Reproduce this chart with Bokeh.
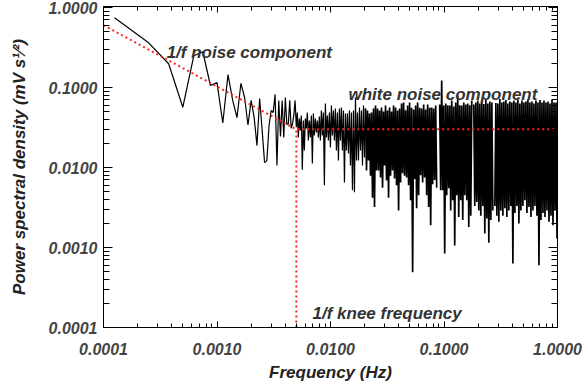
import numpy as np
from bokeh.plotting import figure
from bokeh.models import (LogAxis, FixedTicker, PrintfTickFormatter,
                          CustomJSTickFormatter, Label, Range1d)
from bokeh.embed import file_html
from bokeh.resources import INLINE

# ---------------- data ----------------
# frequency resolution of the spectrum (Hz)
bin_width = 1.25e-4

# individual spectral bins k = 1..40 (f = k * bin_width)
low_psd = [0.743, 0.362, 0.198, 0.0567, 0.25, 0.28, 0.106, 0.115, 0.036, 0.145,
           0.069, 0.042, 0.113, 0.075, 0.034, 0.069, 0.042, 0.0188, 0.073, 0.029,
           0.0115, 0.0122, 0.0335, 0.0516, 0.0487, 0.082, 0.0106, 0.069, 0.0244, 0.069,
           0.0237, 0.075, 0.0345, 0.035, 0.069, 0.031, 0.035, 0.045, 0.069, 0.032]

# dense part of the spectrum (0.0051 - 0.99 Hz): upper / lower excursions
dense_f_start = 0.0051
dense_f_end = 0.99
dense_hi = [0.0487, 0.0410, 0.0447, 0.0387, 0.0410, 0.0487, 0.0387, 0.0447, 0.0473, 0.0410,
            0.0387, 0.0434, 0.0516, 0.0487, 0.0631, 0.0447, 0.0487, 0.0596, 0.0516, 0.0546,
            0.0487, 0.0546, 0.0562, 0.0516, 0.0473, 0.0473, 0.0516, 0.0487, 0.0516, 0.0750,
            0.0487, 0.0562, 0.0516, 0.0596, 0.0546, 0.0516, 0.0473, 0.0487, 0.0546, 0.0596,
            0.0546, 0.0516, 0.0562, 0.0500, 0.0596, 0.0516, 0.0562, 0.0500, 0.0596, 0.0562,
            0.0516, 0.0546, 0.0630, 0.0649, 0.0520, 0.0596, 0.0649, 0.0560, 0.0530, 0.0596,
            0.0649, 0.0560, 0.0546, 0.0613, 0.0530, 0.0613, 0.0560, 0.0562, 0.0546, 0.0596,
            0.0631, 0.0613, 0.1223, 0.0596, 0.0631, 0.0600, 0.0596, 0.0688, 0.0580, 0.0649,
            0.0794, 0.0600, 0.0596, 0.0649, 0.0613, 0.0631, 0.0600, 0.0688, 0.0613, 0.0649,
            0.0688, 0.0631, 0.0668, 0.0620, 0.0720, 0.0631, 0.0668, 0.0649, 0.0688, 0.0640,
            0.0631, 0.0720, 0.0649, 0.0668, 0.0700, 0.0631, 0.0668, 0.0649, 0.0688, 0.0649,
            0.0700, 0.0631, 0.0688, 0.0649, 0.0668, 0.0710, 0.0649, 0.0668, 0.0631, 0.0688,
            0.0649, 0.0700, 0.0649, 0.0688, 0.0649, 0.0668, 0.0631, 0.0700, 0.0649, 0.0649]
dense_lo = [0.0237, 0.0290, 0.0094, 0.0163, 0.0307, 0.0218, 0.0237, 0.0112, 0.0251, 0.0274,
            0.0237, 0.0218, 0.0251, 0.0060, 0.0237, 0.0218, 0.0178, 0.0251, 0.0218, 0.0163,
            0.0122, 0.0218, 0.0163, 0.0065, 0.0163, 0.0150, 0.0106, 0.0052, 0.0049, 0.0122,
            0.0122, 0.0163, 0.0106, 0.0133, 0.0092, 0.0122, 0.0079, 0.0042, 0.0032, 0.0092,
            0.0092, 0.0075, 0.0056, 0.0106, 0.0069, 0.0042, 0.0079, 0.0092, 0.0073, 0.0060,
            0.0029, 0.0065, 0.0085, 0.0079, 0.0075, 0.0060, 0.0039, 0.00049, 0.0072, 0.0031,
            0.0045, 0.0080, 0.0065, 0.0075, 0.0045, 0.0032, 0.0019, 0.0062, 0.0070, 0.0056,
            0.0045, 0.0052, 0.0052, 0.00084, 0.0045, 0.0055, 0.0029, 0.0039, 0.00106, 0.0045,
            0.0024, 0.0039, 0.0022, 0.0045, 0.0039, 0.0018, 0.0025, 0.0052, 0.0033, 0.0037,
            0.0029, 0.0025, 0.0033, 0.0015, 0.0023, 0.00115, 0.0022, 0.0029, 0.0033, 0.0025,
            0.0021, 0.0029, 0.0025, 0.0031, 0.0024, 0.0029, 0.0033, 0.00063, 0.0027, 0.0033,
            0.0020, 0.0029, 0.0033, 0.0039, 0.0027, 0.0032, 0.0024, 0.0029, 0.0033, 0.0025,
            0.00060, 0.0022, 0.0027, 0.0024, 0.0029, 0.0021, 0.0025, 0.0019, 0.0029, 0.0013]
# frequencies where the spectrum has no data (white gaps) and how many samples are missing
gap_freq = [0.0895, 0.1780, 0.2730]
gap_samples = [2, 1, 1]

# fitted model: 1/f component down to the knee, then white level
fit_freq = [1e-4, 0.005, 1.0]
fit_psd = [0.6, 0.03, 0.03]
knee_freq = 0.005
white_level = 0.03

decades = [1e-4, 1e-3, 1e-2, 1e-1, 1.0]

# ---------------- build series ----------------
low_f = bin_width * np.arange(1, len(low_psd) + 1)
n = len(dense_hi)
dense_f = np.geomspace(dense_f_start, dense_f_end, 2 * n)
dense_v = np.empty(2 * n)
dense_v[0::2] = dense_hi
dense_v[1::2] = dense_lo
for g, cnt in zip(gap_freq, gap_samples):
    order = np.argsort(np.abs(np.log10(dense_f) - np.log10(g)))
    dense_v[order[:cnt]] = np.nan

split = 0.02  # sparser and denser parts of the spectrum drawn separately
m = int(np.searchsorted(dense_f, split))
f_a = np.concatenate([low_f, dense_f[:m + 1]])
v_a = np.concatenate([np.array(low_psd), dense_v[:m + 1]])
f_b = dense_f[m:]
v_b = dense_v[m:]

minor = [k * d for d in decades[:-1] for k in range(2, 10)]

FONT = "Liberation Sans"

p = figure(width=582, height=387, x_axis_type="log", y_axis_type="log",
           x_range=Range1d(1e-4, 1.0), y_range=Range1d(1e-4, 1.03),
           output_backend="svg", toolbar_location=None,
           min_border_left=103, min_border_right=25, min_border_top=6,
           min_border_bottom=60)
p.background_fill_color = "white"
p.border_fill_color = "white"
p.outline_line_color = "black"
p.xgrid.visible = False
p.ygrid.visible = False

p.line(f_a, v_a, line_color="black", line_width=1.2)
p.line(f_b, v_b, line_color="black", line_width=1.7)
p.line(fit_freq, fit_psd, line_color="#ff2020", line_width=2, line_dash="2 3")
p.line([knee_freq, knee_freq], [p.y_range.start, white_level],
       line_color="#ff2020", line_width=2, line_dash="2 3")


def style_axis(ax, tick_major, tick_minor, labels=True):
    ax.ticker = FixedTicker(ticks=decades, minor_ticks=minor)
    ax.axis_line_color = "black"
    ax.major_tick_line_color = "black"
    ax.minor_tick_line_color = "black"
    ax.major_tick_out = 0
    ax.minor_tick_out = 0
    ax.major_tick_in = tick_major
    ax.minor_tick_in = tick_minor
    if labels:
        ax.formatter = PrintfTickFormatter(format="%.4f")
        ax.major_label_text_font = FONT
        ax.major_label_text_font_style = "bold italic"
        ax.major_label_text_font_size = "16px"
        ax.major_label_text_color = "#444444"
        ax.axis_label_text_font = FONT
        ax.axis_label_text_font_style = "bold italic"
        ax.axis_label_text_font_size = "17px"
        ax.axis_label_text_color = "#222222"
    else:
        ax.formatter = CustomJSTickFormatter(code="return ''")
        ax.major_label_text_font_size = "0px"
        ax.major_label_standoff = 0


xa = p.xaxis[0]
ya = p.yaxis[0]
style_axis(xa, 6, 4)
style_axis(ya, 9, 6)
xa.axis_label = "Frequency (Hz)"
ya.axis_label = "Power spectral density (mV s\u00b9\u2044\u00b2)"
xa.major_label_standoff = 15
xa.axis_label_standoff = 5
ya.major_label_standoff = 6
ya.axis_label_standoff = 17

top = LogAxis()
style_axis(top, 6, 4, labels=False)
p.add_layout(top, "above")
right = LogAxis()
style_axis(right, 9, 6, labels=False)
p.add_layout(right, "right")

for txt, x, y in [("1/f noise component", 3.6e-4, 0.274),
                  ("white noise component", 0.0144, 0.0818),
                  ("1/f knee frequency", 0.00694, 0.000150)]:
    p.add_layout(Label(x=x, y=y, text=txt, text_font=FONT,
                       text_font_style="bold italic", text_font_size="17px",
                       text_color="#333333", text_baseline="middle",
                       text_align="left"))

open("out.html", "w").write(file_html(p, INLINE))
